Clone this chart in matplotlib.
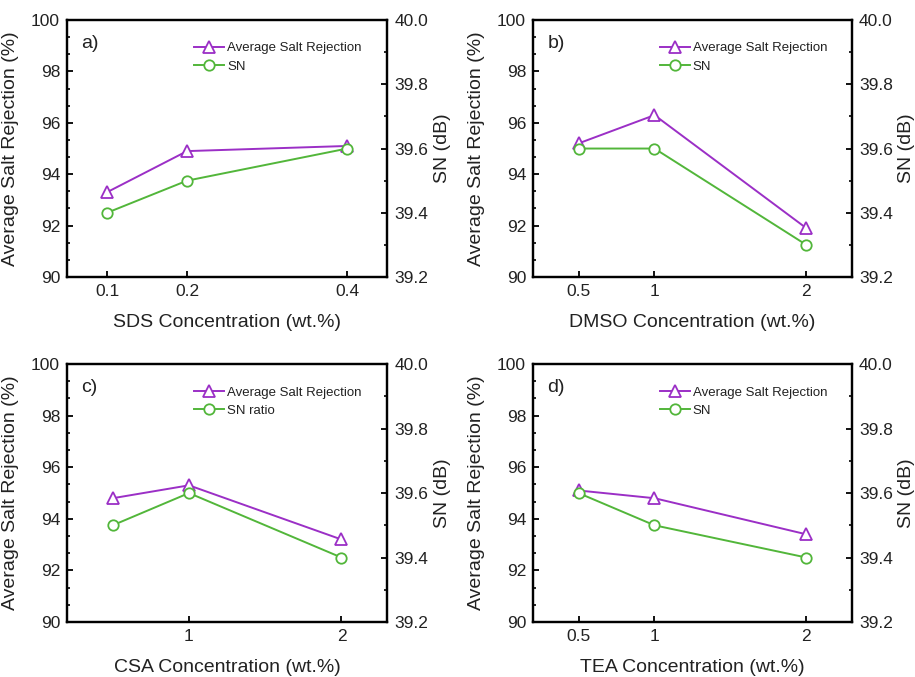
import numpy as np
import matplotlib
matplotlib.use("Agg")
import matplotlib.pyplot as plt
from matplotlib.ticker import AutoMinorLocator, MultipleLocator

plt.rcParams['font.family'] = ['Liberation Sans', 'DejaVu Sans']

# data
sds_x = [0.1, 0.2, 0.4]
sds_asr = [93.3, 94.9, 95.1]
sds_sn = [39.4, 39.5, 39.6]

dmso_x = [0.5, 1, 2]
dmso_asr = [95.2, 96.3, 91.9]
dmso_sn = [39.6, 39.6, 39.3]

csa_x = [0.5, 1, 2]
csa_asr = [94.8, 95.3, 93.2]
csa_sn = [39.5, 39.6, 39.4]

tea_x = [0.5, 1, 2]
tea_asr = [95.1, 94.8, 93.4]
tea_sn = [39.6, 39.5, 39.4]

purple = '#9B2FC6'
green = '#52B63A'
txt = '#222222'

fig = plt.figure(figsize=(9.15, 6.77), dpi=100)

panels = [
    ([0.0732, 0.5908, 0.350, 0.3796], sds_x, sds_asr, sds_sn, 'a)', 'SDS Concentration (wt.%)',
     'SN', (0.05, 0.45), [0.1, 0.2, 0.4], ['0.1', '0.2', '0.4']),
    ([0.5825, 0.5908, 0.3486, 0.3796], dmso_x, dmso_asr, dmso_sn, 'b)', 'DMSO Concentration (wt.%)',
     'SN', (0.2, 2.3), [0.5, 1, 2], ['0.5', '1', '2']),
    ([0.0732, 0.0812, 0.350, 0.381], csa_x, csa_asr, csa_sn, 'c)', 'CSA Concentration (wt.%)',
     'SN ratio', (0.2, 2.3), [1, 2], ['1', '2']),
    ([0.5825, 0.0812, 0.3486, 0.381], tea_x, tea_asr, tea_sn, 'd)', 'TEA Concentration (wt.%)',
     'SN', (0.2, 2.3), [0.5, 1, 2], ['0.5', '1', '2']),
]

for pos, x, asr, sn, tag, xlab, snlab, xl, xt, xtl in panels:
    ax = fig.add_axes(pos)
    ax2 = ax.twinx()

    l1, = ax.plot(x, asr, color=purple, lw=1.4, marker='^', ms=8.5, mfc='white',
                  mec=purple, mew=1.3, label='Average Salt Rejection')
    l2, = ax2.plot(x, sn, color=green, lw=1.4, marker='o', ms=7.5, mfc='white',
                   mec=green, mew=1.3, label=snlab)

    ax.set_xlim(xl)
    ax.set_xticks(xt)
    ax.set_xticklabels(xtl)
    ax.set_ylim(90, 100)
    ax.yaxis.set_major_locator(MultipleLocator(2))
    ax.yaxis.set_minor_locator(AutoMinorLocator(3))
    ax2.set_ylim(39.2, 40.0)
    ax2.set_yticks(np.arange(39.2, 40.01, 0.2))
    ax2.set_yticklabels(['39.2', '39.4', '39.6', '39.8', '40.0'])
    ax2.yaxis.set_minor_locator(AutoMinorLocator(2))

    ax.tick_params(axis='both', which='major', direction='in', length=4, width=1.3,
                   labelsize=12.5, labelcolor=txt, pad=5)
    ax.tick_params(axis='y', which='minor', direction='in', length=2.5, width=1.2)
    ax.tick_params(axis='x', which='minor', bottom=False)
    ax2.tick_params(axis='y', which='major', direction='in', length=4, width=1.3,
                    labelsize=12.5, labelcolor=txt, pad=5)
    ax2.tick_params(axis='y', which='minor', direction='in', length=2.5, width=1.2)

    for a in (ax, ax2):
        for s in a.spines.values():
            s.set_linewidth(1.6)
            s.set_color('black')

    ax.set_xlabel(xlab, fontsize=14, color=txt)
    ax.xaxis.set_label_coords(0.5, -0.145)
    ax.set_ylabel('Average Salt Rejection (%)', fontsize=14, color=txt)
    ax.yaxis.set_label_coords(-0.15, 0.5)
    ax2.set_ylabel('SN (dB)', fontsize=14, color=txt)
    ax2.yaxis.set_label_coords(1.145, 0.5)

    ax.text(0.045, 0.91, tag, transform=ax.transAxes, fontsize=14, color=txt, va='center')

    ax2.legend([l1, l2], [l1.get_label(), l2.get_label()], loc='upper left',
               bbox_to_anchor=(0.36, 0.96), frameon=False, fontsize=9.5,
               handlelength=2.3, handletextpad=0.2, labelspacing=0.45, labelcolor=txt)

fig.savefig('out.png', dpi=100)
